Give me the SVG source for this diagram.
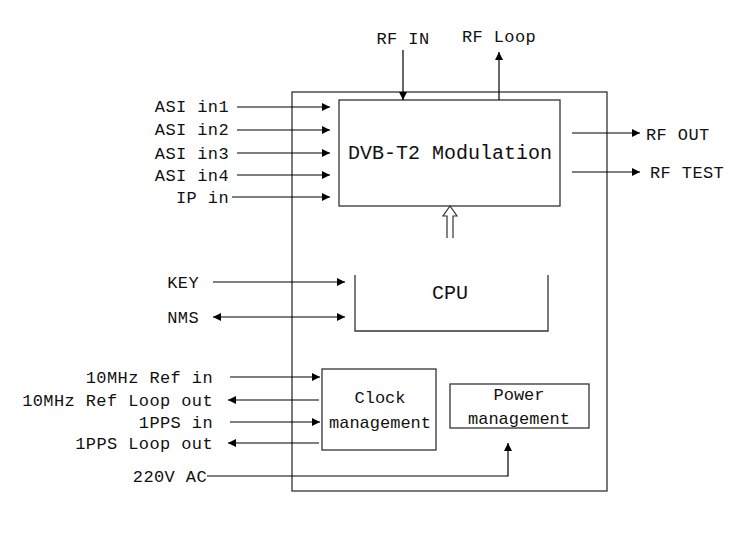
<svg xmlns="http://www.w3.org/2000/svg" width="740" height="534" viewBox="0 0 740 534">
<defs>
<marker id="a" viewBox="0 0 10 10" refX="10" refY="5" markerWidth="10" markerHeight="8" markerUnits="userSpaceOnUse" orient="auto-start-reverse"><path d="M0,0L10,5L0,10z" fill="#000"/></marker>
</defs>
<style>
.b{fill:none;stroke:#333;stroke-width:1.3}
.l{stroke:#000;stroke-width:1.2;fill:none}
text{font-family:"Liberation Mono",monospace;font-size:17px;fill:#111;letter-spacing:0.4px}
.r{text-anchor:end}
.c{text-anchor:middle}
</style>
<rect width="740" height="534" fill="#fff"/>
<g id="outer"><rect class="b" x="292" y="92" width="315" height="399"/></g>
<g id="dvb"><rect class="b" x="339" y="100" width="221" height="106"/><text class="c" x="450" y="159" style="font-size:20px;letter-spacing:0">DVB-T2 Modulation</text></g>
<g id="cpu"><path class="b" d="M355,275V331H548V275"/><text class="c" x="450" y="299" style="font-size:20px;letter-spacing:0">CPU</text></g>
<g id="clock"><rect class="b" x="322" y="369" width="114" height="81"/><text class="c" x="380" y="403" style="letter-spacing:0">Clock</text><text class="c" x="380" y="428" style="letter-spacing:0">management</text></g>
<g id="power"><rect class="b" x="450" y="384" width="139" height="44"/><text class="c" x="519" y="400" style="letter-spacing:0">Power</text><text class="c" x="519" y="424" style="letter-spacing:0">management</text></g>
<g id="labels">
<text class="r" x="229" y="112">ASI in1</text><text class="r" x="229" y="135">ASI in2</text><text class="r" x="229" y="159">ASI in3</text><text class="r" x="229" y="181">ASI in4</text><text class="r" x="229" y="203">IP in</text>
<text class="c" x="403" y="44">RF IN</text><text class="c" x="499" y="42">RF Loop</text>
<text x="646" y="140">RF OUT</text><text x="650" y="178">RF TEST</text>
<text class="r" x="199" y="288">KEY</text><text class="r" x="199" y="323">NMS</text>
<text class="r" x="213" y="383">10MHz Ref in</text><text class="r" x="213" y="406">10MHz Ref Loop out</text><text class="r" x="213" y="428">1PPS in</text><text class="r" x="213" y="449">1PPS Loop out</text>
<text class="r" x="207" y="482">220V AC</text>
</g>
<g id="connectors">
<path class="l" d="M403,50V100" marker-end="url(#a)"/>
<path class="l" d="M499,100V52" marker-end="url(#a)"/>
<path class="l" d="M237,107H330" marker-end="url(#a)"/>
<path class="l" d="M237,130H330" marker-end="url(#a)"/>
<path class="l" d="M237,153H330" marker-end="url(#a)"/>
<path class="l" d="M237,175H330" marker-end="url(#a)"/>
<path class="l" d="M232,197H330" marker-end="url(#a)"/>
<path class="l" d="M572,133H640" marker-end="url(#a)"/>
<path class="l" d="M572,172H640" marker-end="url(#a)"/>
<path d="M447,238V216H443L450,206L457,216H453V238" fill="#fff" stroke="#333" stroke-width="1.2"/>
<path class="l" d="M213,282H345" marker-end="url(#a)"/>
<path class="l" d="M213,317H345" marker-start="url(#a)" marker-end="url(#a)"/>
<path class="l" d="M230,377H320" marker-end="url(#a)"/>
<path class="l" d="M319,400H228" marker-end="url(#a)"/>
<path class="l" d="M230,422H320" marker-end="url(#a)"/>
<path class="l" d="M319,443H228" marker-end="url(#a)"/>
<path class="l" d="M207,476H508V443" marker-end="url(#a)"/>
</g>
</svg>
